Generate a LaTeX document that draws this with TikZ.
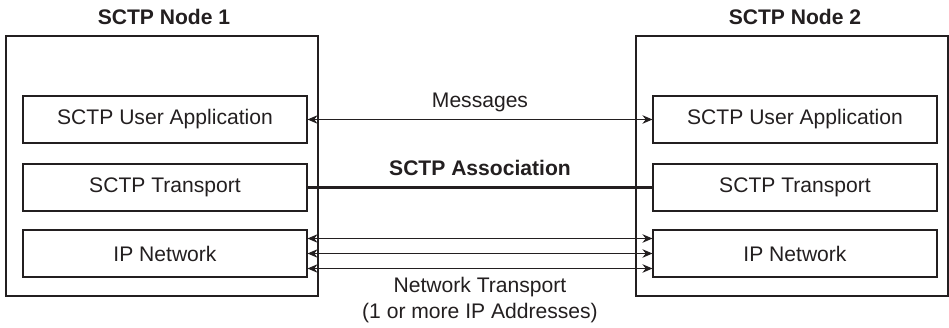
\documentclass[tikz,border=0pt]{standalone}
\usepackage{fontspec}
\setmainfont{Liberation Sans}
\usepackage{xcolor}
\usepackage{tikz}
\usetikzlibrary{arrows.meta,positioning}
\definecolor{ink}{RGB}{35,31,32}
\tikzset{
  hostbox/.style={rectangle,draw=ink,line width=0.9pt,minimum width=6.24cm,minimum height=5.2cm},
  layer/.style={rectangle,draw=ink,line width=0.6pt,minimum width=5.68cm,minimum height=0.94cm,
              align=center,font=\fontsize{12}{14}\selectfont,text=ink},
  title/.style={font=\fontsize{12}{14}\selectfont\bfseries,text=ink},
  note/.style={font=\fontsize{12}{14.5}\selectfont,text=ink,align=center},
  msg/.style={{Stealth[length=2mm,width=1.7mm]}-{Stealth[length=2mm,width=1.7mm]},line width=0.55pt,draw=ink},
  assoc/.style={line width=1.2pt,draw=ink},
}

\begin{document}
\begin{tikzpicture}
  \useasboundingbox (0,0) rectangle (18.98,6.56);
  % the two hosts
  \node[hostbox] (host1) at (3.24,3.24) {};
  \node[hostbox] (host2) at (15.84,3.24) {};
  \node[title] (t1) at (3.28,6.22) {SCTP Node 1};
  \node[title] (t2) at (15.9,6.22) {SCTP Node 2};
  % protocol layers
  \node[layer] (app1) at (3.3,4.17) {SCTP User Application};
  \node[layer] (sctp1) at (3.3,2.81) {SCTP Transport};
  \node[layer] (ip1) at (3.3,1.49) {IP Network};
  \node[layer] (app2) at (15.9,4.17) {SCTP User Application};
  \node[layer] (sctp2) at (15.9,2.81) {SCTP Transport};
  \node[layer] (ip2) at (15.9,1.49) {IP Network};
  % connections between peers
  \draw[msg] (app1.east) -- node[note,above=1pt] (msgs) {Messages} (app2.west);
  \draw[assoc] (sctp1.east) -- node[title,above=3pt] (assoc) {SCTP Association} (sctp2.west);
  \draw[msg] ([yshift=0.3cm]ip1.east) -- ([yshift=0.3cm]ip2.west);
  \draw[msg] (ip1.east) -- (ip2.west);
  \draw[msg] ([yshift=-0.3cm]ip1.east) -- ([yshift=-0.3cm]ip2.west);
  \node[note] (nettr) at (msgs.center |- 0,0.56) {Network Transport\\(1 or more IP Addresses)};
\end{tikzpicture}
\end{document}
